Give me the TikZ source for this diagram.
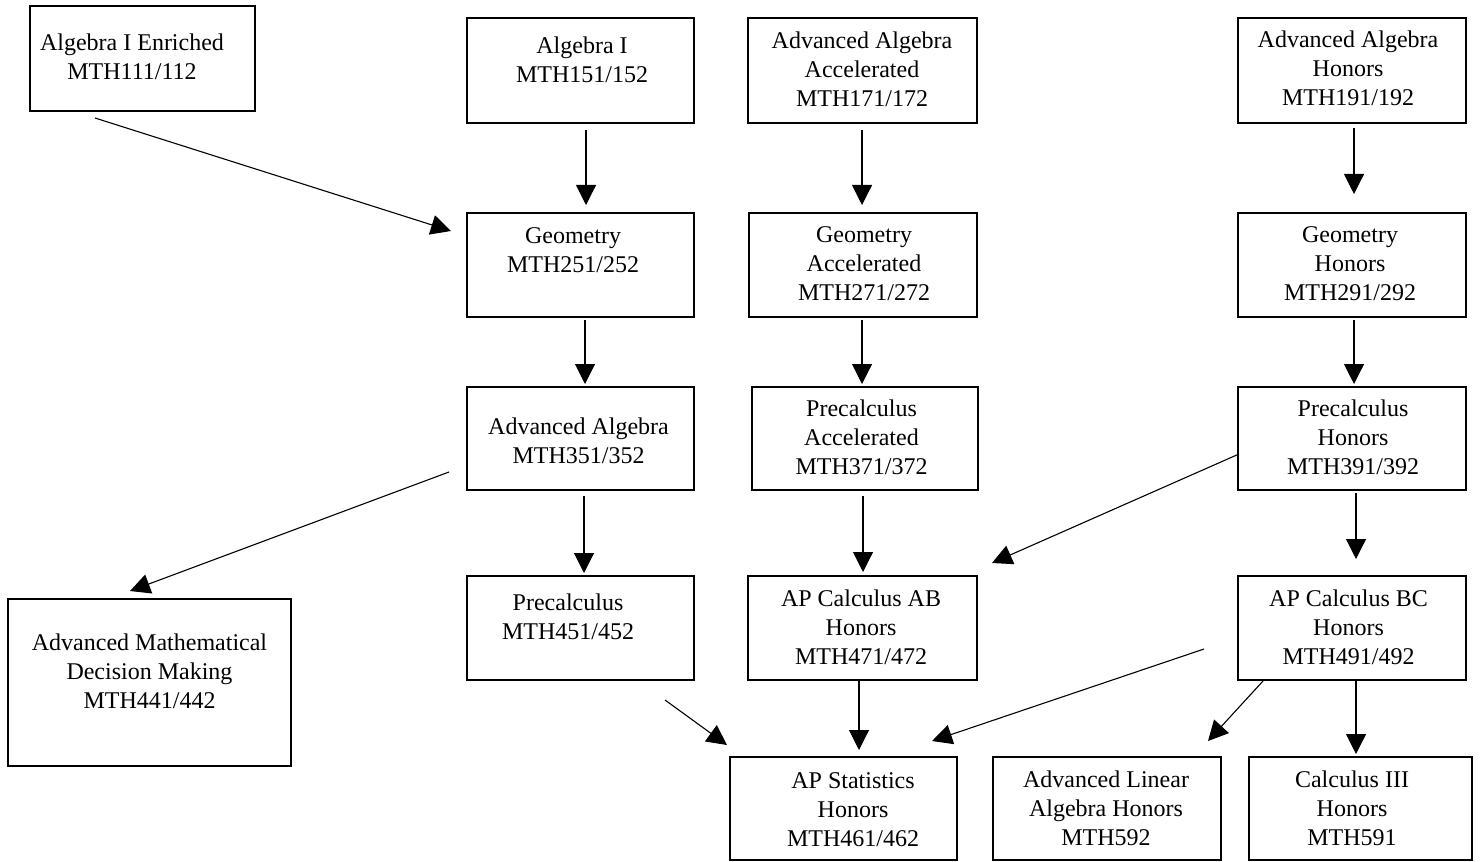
\documentclass[tikz,border=0pt]{standalone}
\usepackage{fontspec}
\setmainfont{Liberation Serif}
\usetikzlibrary{arrows.meta}
\begin{document}
\begin{tikzpicture}[x=0.5pt,y=-0.5pt,
  box/.style={draw, line width=1.1pt, inner sep=0pt, minimum width=113.5pt, minimum height=52.5pt},
  lbl/.style={align=center, inner sep=0pt, font=\fontsize{12pt}{14.5pt}\selectfont},
  arr/.style={line width=0.55pt, -{Triangle[length=10pt,width=10pt]}}]
\useasboundingbox (0,0) rectangle (1481,861);

% boxes
\node[box, minimum width=112.5pt] (enr) at (142.5,58.5) {};
\node[box] (alg1) at (580.5,70.5) {};
\node[box, minimum width=114.5pt] (aaa) at (862.5,70.5) {};
\node[box, minimum width=114pt] (aah) at (1352,70.5) {};
\node[box, minimum height=52pt] (geo) at (580.5,265) {};
\node[box, minimum width=114pt, minimum height=52pt] (geoa) at (863,265) {};
\node[box, minimum width=114pt, minimum height=52pt] (geoh) at (1352,265) {};
\node[box, minimum height=51.5pt] (aa) at (580.5,438.5) {};
\node[box, minimum width=113pt, minimum height=51.5pt] (pca) at (865,438.5) {};
\node[box, minimum width=114pt, minimum height=51.5pt] (pch) at (1352,438.5) {};
\node[box, minimum height=52pt] (pc) at (580.5,628) {};
\node[box, minimum width=114.5pt, minimum height=52pt] (abh) at (862.5,628) {};
\node[box, minimum width=114pt, minimum height=52pt] (bch) at (1352,628) {};
\node[box, minimum width=141.5pt, minimum height=83.5pt] (amdm) at (149.5,682.5) {};
\node[box, minimum height=51.5pt] (sta) at (843.5,808.5) {};
\node[box, minimum width=114pt, minimum height=51.5pt] (ala) at (1107,808.5) {};
\node[box, minimum width=111.5pt, minimum height=51.5pt] (c3) at (1360.5,808.5) {};

% labels
\node[lbl] (enrt) at (132,57) {Algebra I Enriched\\MTH111/112};
\node[lbl] (alg1t) at (582,60) {Algebra I\\MTH151/152};
\node[lbl] (aaat) at (862,69) {Advanced Algebra\\Accelerated\\MTH171/172};
\node[lbl] (aaht) at (1348,68) {Advanced Algebra\\Honors\\MTH191/192};
\node[lbl] (geot) at (573,250) {Geometry\\MTH251/252};
\node[lbl] (geoat) at (864,264) {Geometry\\Accelerated\\MTH271/272};
\node[lbl] (geoht) at (1350,264) {Geometry\\Honors\\MTH291/292};
\node[lbl] (aat) at (578.5,441) {Advanced Algebra\\MTH351/352};
\node[lbl] (pcat) at (861.5,437) {Precalculus\\Accelerated\\MTH371/372};
\node[lbl] (pcht) at (1353,437) {Precalculus\\Honors\\MTH391/392};
\node[lbl] (pct) at (568,617) {Precalculus\\MTH451/452};
\node[lbl] (abht) at (861,627) {AP Calculus AB\\Honors\\MTH471/472};
\node[lbl] (bcht) at (1348.5,627) {AP Calculus BC\\Honors\\MTH491/492};
\node[lbl] (amdmt) at (149.5,671) {Advanced Mathematical\\Decision Making\\MTH441/442};
\node[lbl] (stat) at (853,810) {AP Statistics\\Honors\\MTH461/462};
\node[lbl] (alat) at (1106,808) {Advanced Linear\\Algebra Honors\\MTH592};
\node[lbl] (c3t) at (1352,808) {Calculus III\\Honors\\MTH591};

% connector end points
\coordinate (a1s) at (95,118);   \coordinate (a1e) at (451,231);
\coordinate (a2s) at (586,130);  \coordinate (a2e) at (586,205);
\coordinate (a3s) at (862,130);  \coordinate (a3e) at (862,205);
\coordinate (a4s) at (1354,128); \coordinate (a4e) at (1354,194);
\coordinate (a5s) at (585,320);  \coordinate (a5e) at (585,384);
\coordinate (a6s) at (862,320);  \coordinate (a6e) at (862,384);
\coordinate (a7s) at (1354,320); \coordinate (a7e) at (1354,384);
\coordinate (a8s) at (584,496);  \coordinate (a8e) at (584,573);
\coordinate (a9s) at (449,472);  \coordinate (a9e) at (130,591);
\coordinate (a10s) at (863,496); \coordinate (a10e) at (863,572);
\coordinate (a11s) at (1239,454); \coordinate (a11e) at (992,563);
\coordinate (a12s) at (1356,493); \coordinate (a12e) at (1356,559);
\coordinate (a13s) at (665,700); \coordinate (a13e) at (727,745);
\coordinate (a14s) at (859,681); \coordinate (a14e) at (859,750);
\coordinate (a15s) at (1204,649); \coordinate (a15e) at (932,741);
\coordinate (a16s) at (1263,681); \coordinate (a16e) at (1208,741);
\coordinate (a17s) at (1356,681); \coordinate (a17e) at (1356,754);

% connectors
\draw[arr] (a1s) -- (a1e);
\draw[arr] (a2s) -- (a2e);
\draw[arr] (a3s) -- (a3e);
\draw[arr] (a4s) -- (a4e);
\draw[arr] (a5s) -- (a5e);
\draw[arr] (a6s) -- (a6e);
\draw[arr] (a7s) -- (a7e);
\draw[arr] (a8s) -- (a8e);
\draw[arr] (a9s) -- (a9e);
\draw[arr] (a10s) -- (a10e);
\draw[arr] (a11s) -- (a11e);
\draw[arr] (a12s) -- (a12e);
\draw[arr] (a13s) -- (a13e);
\draw[arr] (a14s) -- (a14e);
\draw[arr] (a15s) -- (a15e);
\draw[arr] (a16s) -- (a16e);
\draw[arr] (a17s) -- (a17e);
\end{tikzpicture}
\end{document}
